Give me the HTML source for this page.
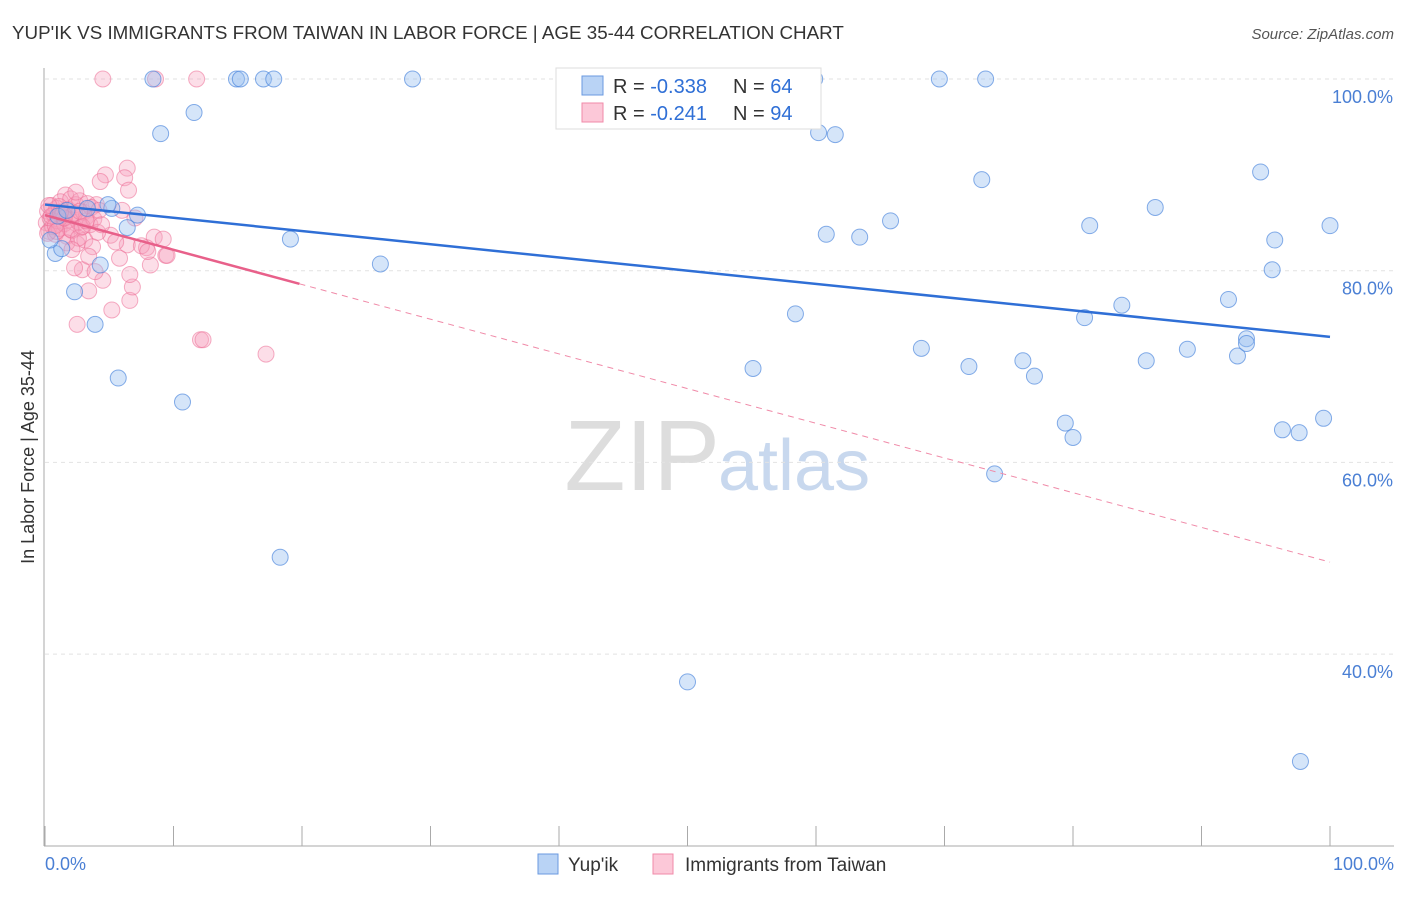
<!DOCTYPE html>
<html><head><meta charset="utf-8"><style>
body{margin:0;background:#fff;font-family:"Liberation Sans",sans-serif;}
svg text{font-family:"Liberation Sans",sans-serif;}
</style></head><body>
<svg id="chart" width="1406" height="892">
<text x="12" y="39" font-size="18.8" fill="#333">YUP'IK VS IMMIGRANTS FROM TAIWAN IN LABOR FORCE | AGE 35-44 CORRELATION CHART</text>
<text x="1394" y="39" font-size="15" fill="#555" text-anchor="end" font-style="italic">Source: ZipAtlas.com</text>
<text x="720" y="490" font-size="100" fill="#ddd" text-anchor="end" font-family="Liberation Serif">ZIP</text>
<text x="718" y="490" font-size="72" fill="#c8d8ee">atlas</text>
<g id="grid"></g><g id="axes"></g><g id="pts"></g><g id="trend"></g>
<text transform="translate(34,457) rotate(-90)" font-size="18" fill="#333" text-anchor="middle">In Labor Force | Age 35-44</text>
<text x="45" y="870" font-size="18" fill="#4a7fd4">0.0%</text>
<text x="1394" y="870" font-size="18" fill="#4a7fd4" text-anchor="end">100.0%</text>
<g>
<rect x="556" y="68" width="265" height="61" fill="#fff" stroke="#ddd"/>
<rect x="582" y="76" width="21" height="19" fill="#b9d3f5" stroke="#6a9ae0"/>
<rect x="582" y="103" width="21" height="19" fill="#fcc8d8" stroke="#f08aa8"/>
<text x="613" y="93" font-size="20" fill="#333">R = <tspan fill="#2f6fd6">-0.338</tspan><tspan x="733">N = </tspan><tspan fill="#2f6fd6">64</tspan></text>
<text x="613" y="120" font-size="20" fill="#333">R = <tspan fill="#2f6fd6"> -0.241</tspan><tspan x="733">N = </tspan><tspan fill="#2f6fd6">94</tspan></text>
</g>
<g>
<rect x="538" y="854" width="20" height="20" fill="#b9d3f5" stroke="#6a9ae0"/>
<text x="568" y="871" font-size="19" fill="#333">Yup'ik</text>
<rect x="653" y="854" width="20" height="20" fill="#fcc8d8" stroke="#f08aa8"/>
<text x="685" y="871" font-size="19" fill="#333">Immigrants from Taiwan</text>
</g>
</svg>
<script>
const yTicks=[100,80,60,40];
const yTickLabels=["100.0%","80.0%","60.0%","40.0%"];
const xTicks=[0,10,20,30,40,50,60,70,80,90,100];
const blueX=[0.8,1.3,2.3,3.9,4.3,5.2,5.7,6.4,7.2,8.4,9.0,10.7,11.6,14.9,15.2,17.0,17.8,18.3,19.1,26.1,28.6,41.6,50.0,55.1,58.4,59.9,60.2,61.5,60.8,63.4,65.8,68.2,69.6,71.9,72.9,73.2,73.9,76.1,77.0,79.4,80.0,80.9,81.3,83.8,85.7,86.4,88.9,92.1,92.8,93.5,93.5,94.6,95.5,95.7,96.3,97.6,97.7,99.5,100,0.4,1.0,4.9,1.7,3.3];
const blueY=[81.8,82.3,77.8,74.4,80.6,86.5,68.8,84.5,85.8,100,94.3,66.3,96.5,100,100,100,100,50.1,83.3,80.7,100,100,37.1,69.8,75.5,100,94.4,94.2,83.8,83.5,85.2,71.9,100,70.0,89.5,100,58.8,70.6,69.0,64.1,62.6,75.1,84.7,76.4,70.6,86.6,71.8,77.0,71.1,72.9,72.4,90.3,80.1,83.2,63.4,63.1,28.8,64.6,84.7,83.2,85.7,86.9,86.3,86.5];
const pinkX=[4.5,8.6,11.8,6.4,4.7,4.3,6.2,6.5,2.5,3.4,5.2,6.6,6.8,12.1,12.3,17.2,9.4,8.2,8.5,7.9,6.4,6.6,5.8,4.5,2.9,2.3,3.9,5.1,7.0,4.0,1.6,
0.1,0.2,0.3,0.4,0.5,0.6,0.7,0.8,0.9,1.0,1.1,1.2,1.3,1.4,1.5,1.7,1.8,1.9,2.0,2.1,2.2,2.4,2.5,2.6,2.7,2.8,3.0,3.1,3.2,3.3,3.5,3.6,3.7,3.8,4.1,4.2,0.2,0.5,0.8,1.1,1.4,1.7,2.0,2.3,2.6,2.9,3.2,0.3,0.9,1.5,2.1,2.7,3.4,4.4,5.5,6.0,7.5,9.2,9.5,8.0,1.2,2.4];
const pinkY=[100,100,100,90.7,90.0,89.3,89.7,88.4,74.4,77.9,75.9,76.9,78.3,72.8,72.8,71.3,81.6,80.6,83.5,82.4,82.7,79.6,81.3,79.0,80.1,80.3,79.9,83.7,85.5,86.9,87.9,
85.0,86.2,84.1,85.5,86.8,84.6,85.9,83.8,86.5,85.2,84.4,87.2,85.7,86.0,84.9,83.6,86.4,85.3,87.5,84.2,85.8,86.9,82.8,85.1,87.3,84.5,86.1,83.2,85.6,87.0,84.8,86.6,82.5,85.4,84.0,86.3,83.9,85.7,84.7,86.7,85.9,82.9,84.3,86.0,83.4,84.6,85.2,86.8,84.1,85.5,82.2,86.2,81.5,84.8,83.0,86.3,82.6,83.3,81.6,82.0,86.1,88.2];
const trendBlue=[86.9,73.1];
const trendPink=[85.8,49.6];
const pinkSolidEnd=19.8;
const NS="http://www.w3.org/2000/svg";
const X0=45,X1=1330,Y100=79,PXPER=9.585;
const sx=v=>X0+(X1-X0)*v/100;
const sy=v=>Y100+(100-v)*PXPER;
function mk(tag,attrs,parent){const e=document.createElementNS(NS,tag);for(const k in attrs)e.setAttribute(k,attrs[k]);parent.appendChild(e);return e;}
const grid=document.getElementById('grid');
yTicks.forEach((t,i)=>{
 const l=mk('line',{x1:45,x2:1394,y1:sy(t),y2:sy(t),stroke:'#e2e2e2','stroke-dasharray':'4,4'},grid);
 
 
 const tx=mk('text',{x:1393,y:sy(t)+24,'font-size':18,fill:'#4a7fd4','text-anchor':'end'},grid);
 tx.textContent=yTickLabels[i];
 
 
});
const axes=document.getElementById('axes');
const ya=mk('line',{x1:44,x2:44,y1:68,y2:846,stroke:'#aaa'},axes);


const xa=mk('line',{x1:44,x2:1394,y1:846,y2:846,stroke:'#aaa'},axes);


xTicks.forEach(t=>{const l=mk('line',{x1:sx(t),x2:sx(t),y1:826,y2:846,stroke:'#aaa'},axes);
 
 });
const pts=document.getElementById('pts');
pinkX.forEach((v,i)=>{const c=mk('circle',{cx:sx(v),cy:sy(pinkY[i]),r:8,fill:'rgba(246,160,188,0.35)',stroke:'rgba(236,110,150,0.55)','stroke-width':1},pts);
 
 });
blueX.forEach((v,i)=>{const c=mk('circle',{cx:sx(v),cy:sy(blueY[i]),r:8,fill:'rgba(150,190,240,0.4)',stroke:'rgba(70,130,220,0.65)','stroke-width':1},pts);
 
 });
const tr=document.getElementById('trend');
const lb=mk('line',{x1:sx(0),y1:sy(trendBlue[0]),x2:sx(100),y2:sy(trendBlue[1]),stroke:'#2f6fd6','stroke-width':2.5},tr);


const pm=trendPink[0]+(trendPink[1]-trendPink[0])*pinkSolidEnd/100;
const lp=mk('line',{x1:sx(0),y1:sy(trendPink[0]),x2:sx(pinkSolidEnd),y2:sy(pm),stroke:'#e8608a','stroke-width':2.5},tr);


const ld=mk('line',{x1:sx(pinkSolidEnd),y1:sy(pm),x2:sx(100),y2:sy(trendPink[1]),stroke:'#f08aa8','stroke-width':1,'stroke-dasharray':'6,5'},tr);


</script>
</body></html>
